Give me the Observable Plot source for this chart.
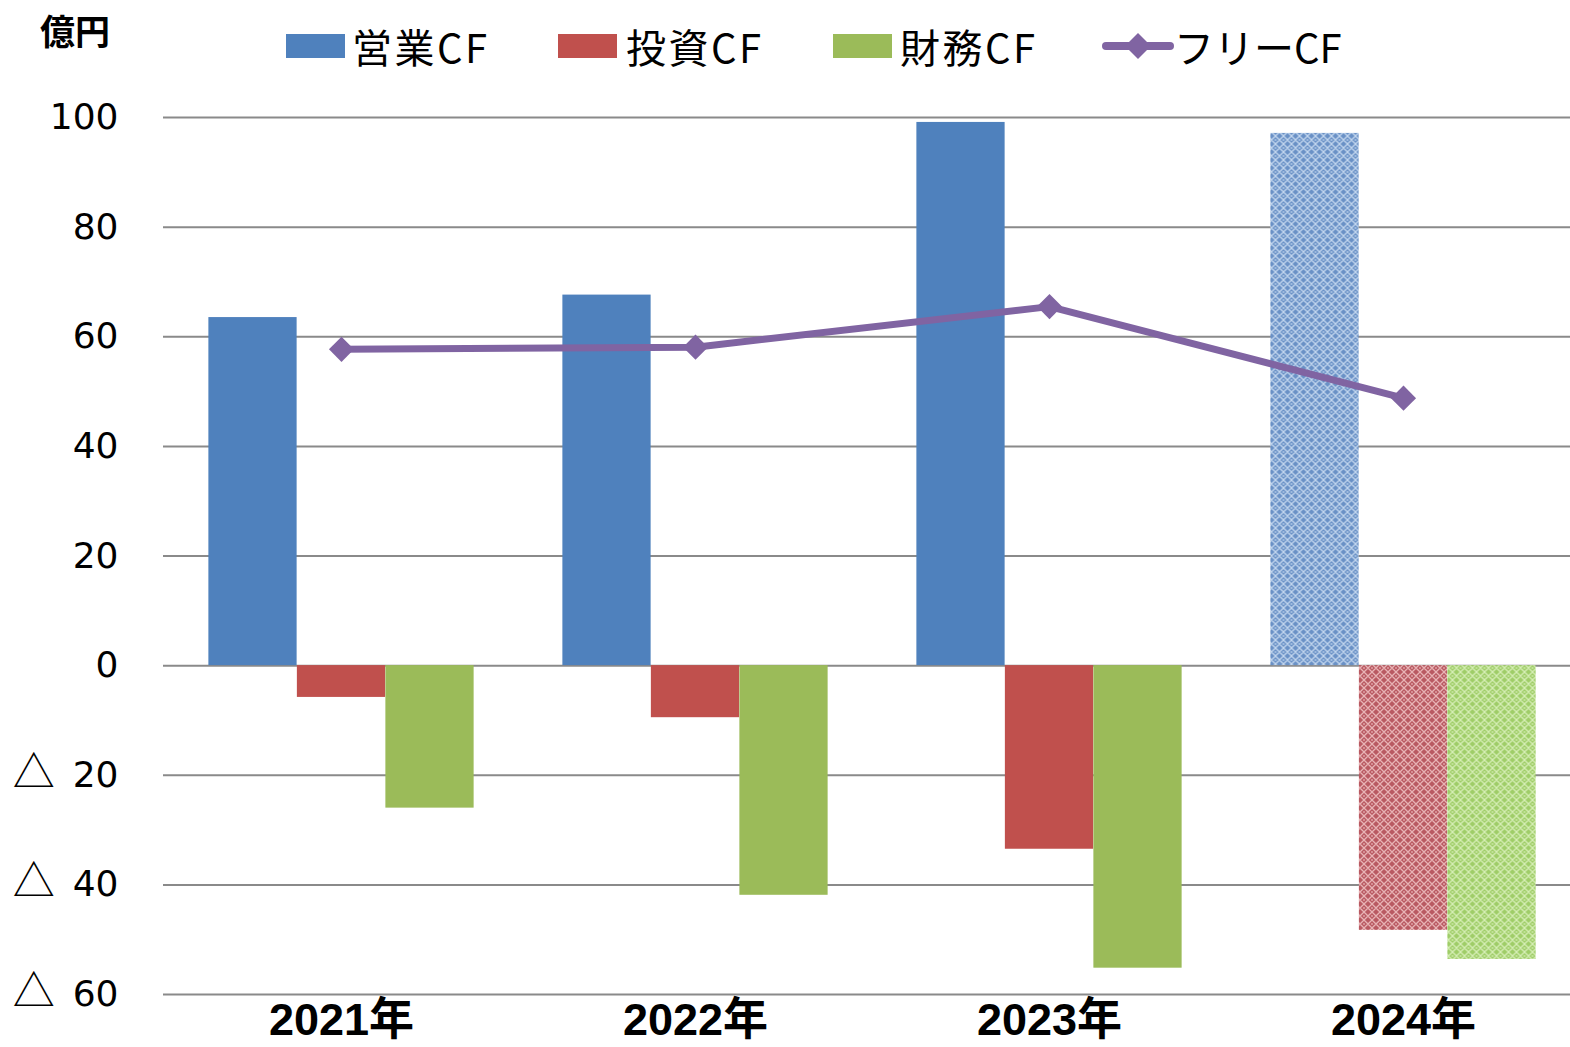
<!DOCTYPE html>
<html><head><meta charset="utf-8">
<script src="https://cdn.jsdelivr.net/npm/d3@7"></script>
<script src="https://cdn.jsdelivr.net/npm/@observablehq/plot@0.6"></script>
<style>
html,body{margin:0;padding:0;background:#fff;overflow:hidden;width:1570px;height:1047px;}
#wrap{position:relative;width:1570px;height:1047px;overflow:hidden;}
#chart{position:absolute;left:0;top:0;}
#chart svg{max-width:none !important;}
.lg{position:absolute;font-family:"Noto Sans CJK JP","Noto Sans",sans-serif;font-size:40px;color:#000;line-height:1;}
.ls{letter-spacing:2.5px;}
.sw{position:absolute;height:24px;width:59px;}
#unit{position:absolute;left:40px;top:12px;font-family:"Noto Sans CJK JP",sans-serif;font-weight:bold;font-size:35px;line-height:1;}
</style></head>
<body><div id="wrap">
<div id="chart"></div>
<div id="unit">億円</div>
<div class="sw" style="left:286px;top:34px;background:#4F81BD"></div><div class="lg ls" style="left:352px;top:26px">営業CF</div>
<div class="sw" style="left:558px;top:34px;background:#C0504D"></div><div class="lg ls" style="left:626px;top:26px">投資CF</div>
<div class="sw" style="left:833px;top:34px;background:#9BBB59"></div><div class="lg ls" style="left:900px;top:26px">財務CF</div>
<svg style="position:absolute;left:1102px;top:30px" width="72" height="32"><line x1="4" y1="16" x2="68" y2="16" stroke="#8064A2" stroke-width="8" stroke-linecap="round"/><path d="M36,3 L49,16 L36,29 L23,16 Z" fill="#8064A2"/></svg>
<div class="lg" style="left:1174px;top:26px">フリーCF</div>
</div>
<script>
const years = ["2021年", "2022年", "2023年", "2024年"];
const operatingCF = [63.5, 67.6, 99.1, 97.1];
const investingCF = [-5.8, -9.5, -33.5, -48.3];
const financingCF = [-26.0, -41.9, -55.2, -53.6];
const freeCF = [57.7, 58.1, 65.5, 48.8];
const isForecast = [false, false, false, true];
const yTicks = [-60, -40, -20, 0, 20, 40, 60, 80, 100];

const rows = years.map((y, i) => ({year: y, op: operatingCF[i], inv: investingCF[i], fin: financingCF[i], free: freeCF[i], fc: isForecast[i]}));
const actual = rows.filter(d => !d.fc);
const forecast = rows.filter(d => d.fc);

const barW = 88.5;
const W = 1580, ML = 163, MR = 0;
const step = (W - ML - MR) / years.length;
const inset = (step - barW) / 2;
const barOpts = (dx) => ({x: "year", dx, insetLeft: inset, insetRight: inset});

const chart = Plot.plot({
  width: W, height: 1047,
  marginLeft: ML, marginRight: MR, marginTop: 117, marginBottom: 53,
  x: {type: "band", domain: years, padding: 0, label: null},
  y: {domain: [-60, 100], ticks: yTicks, label: null},
  style: {background: "transparent", maxWidth: "none"},
  marks: [
    Plot.gridY(yTicks, {stroke: "#8a8a8a", strokeOpacity: 1, strokeWidth: 2}),
    Plot.barY(actual, {...barOpts(-barW), y: "op", fill: "#4F81BD"}),
    Plot.barY(actual, {...barOpts(0), y: "inv", fill: "#C0504D"}),
    Plot.barY(actual, {...barOpts(barW), y: "fin", fill: "#9BBB59"}),
    Plot.barY(forecast, {...barOpts(-barW), y: "op", fill: "url(#patBlue)"}),
    Plot.barY(forecast, {...barOpts(0), y: "inv", fill: "url(#patRed)"}),
    Plot.barY(forecast, {...barOpts(barW), y: "fin", fill: "url(#patGreen)"}),
    Plot.line(rows, {x: "year", y: "free", stroke: "#8064A2", strokeWidth: 7}),
    Plot.dot(rows, {x: "year", y: "free", symbol: "diamond2", r: 11.3, fill: "#8064A2", stroke: "none"}),
    Plot.axisY(yTicks, {tickSize: 0, tickPadding: 45, fontSize: 36, fontFamily: "DejaVu Sans, Noto Sans CJK JP, sans-serif",
      fill: "#000", tickFormat: v => v < 0 ? "△\u2002" + (-v) : String(v)}),
    Plot.axisX(years, {tickSize: 0, tickPadding: 9, fontSize: 45, fontWeight: "bold",
      fontFamily: "Liberation Sans, Noto Sans CJK JP, sans-serif", fill: "#000", tickFormat: d => d})
  ]
});

// hatch patterns for forecast bars
const svg = d3.select(chart);
const defs = svg.insert("defs", ":first-child");
function pat(id, base, light) {
  const p = defs.append("pattern").attr("id", id).attr("patternUnits", "userSpaceOnUse").attr("width", 8).attr("height", 8);
  p.append("rect").attr("width", 8).attr("height", 8).attr("fill", base);
  p.append("path").attr("d", "M0,4 L4,0 L8,4 L4,8 Z").attr("fill", "none").attr("stroke", light).attr("stroke-width", 1.3);
  p.append("rect").attr("x", 3).attr("y", 3).attr("width", 2).attr("height", 2).attr("fill", light).attr("opacity", 0.6);
}
pat("patBlue", "#6a91c6", "#c2d6ee");
pat("patRed", "#b95a62", "#e8b3b5");
pat("patGreen", "#9fcd68", "#d6eeb6");

// render the △ sign in a CJK font, larger, as in the reference
svg.selectAll('g[aria-label="y-axis tick label"] text').each(function() {
  const t = d3.select(this);
  const s = t.text();
  if (s.startsWith("△")) {
    t.text(null);
    t.append("tspan").attr("font-family", "Noto Sans CJK JP").attr("font-size", 42).text("△");
    t.append("tspan").text(s.slice(1));
  }
});

document.getElementById("chart").appendChild(chart);
</script>
</body></html>
